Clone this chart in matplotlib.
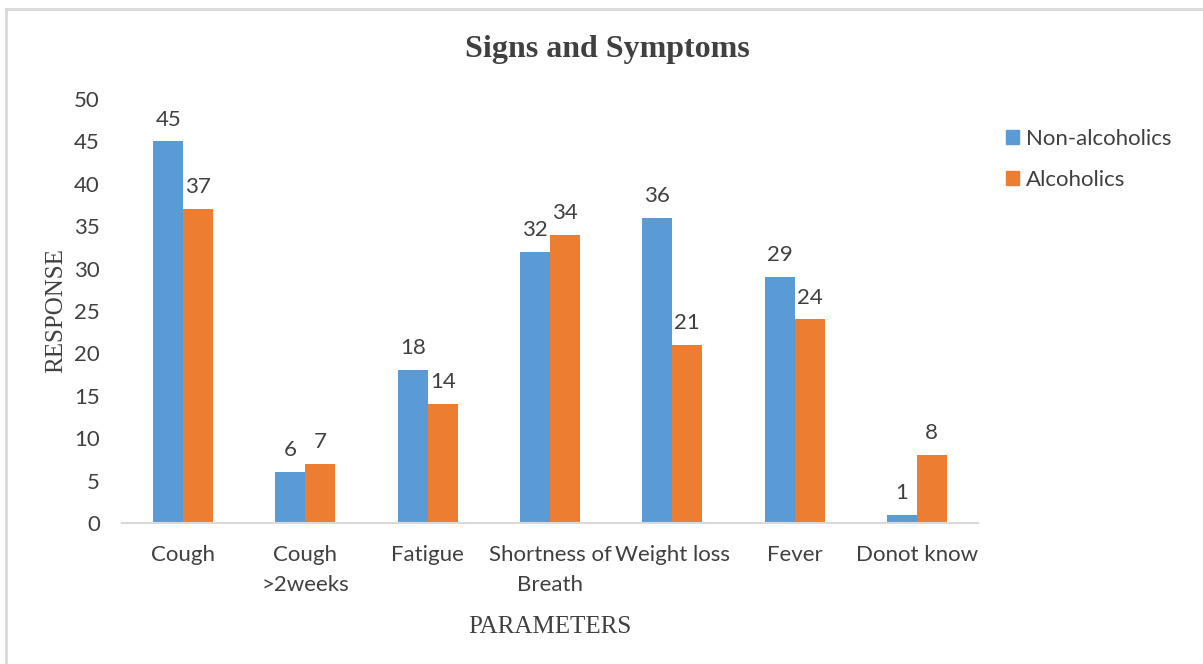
import matplotlib
matplotlib.use("Agg")
import matplotlib.pyplot as plt
import numpy as np
from matplotlib.lines import Line2D

categories = ["Cough", "Cough\n>2weeks", "Fatigue", "Shortness of\nBreath",
              "Weight loss", "Fever", "Donot know"]
non_alcoholics = [45, 6, 18, 32, 36, 29, 1]
alcoholics = [37, 7, 14, 34, 21, 24, 8]
series_names = ["Non-alcoholics", "Alcoholics"]
y_ticks = [0, 5, 10, 15, 20, 25, 30, 35, 40, 45, 50]

blue = "#5B9BD5"
orange = "#ED7D31"
text_col = "#404040"
sans = ["Lato", "DejaVu Sans"]
serif = ["Liberation Serif", "DejaVu Serif"]
fs = 16

fig = plt.figure(figsize=(12.03, 6.64), dpi=100)
ax = fig.add_axes([122 / 1203, 141 / 664, 856 / 1203, 424 / 664])

x = np.arange(len(categories))
w = 0.245
ax.bar(x - w / 2, non_alcoholics, w, color=blue, label=series_names[0])
ax.bar(x + w / 2, alcoholics, w, color=orange, label=series_names[1])

# value labels
for xi, v in zip(x, non_alcoholics):
    ax.text(xi - w / 2, v + 1.4, str(v), ha="center", va="bottom",
            fontsize=fs, color=text_col, family=sans)
for xi, v in zip(x, alcoholics):
    ax.text(xi + w / 2, v + 1.4, str(v), ha="center", va="bottom",
            fontsize=fs, color=text_col, family=sans)

ax.set_xlim(-0.5, len(categories) - 0.5)
ax.set_ylim(0, 50)
ax.set_yticks(y_ticks)
ax.set_xticks(x)
ax.set_xticklabels(categories, family=sans, fontsize=fs, color=text_col,
                   linespacing=1.6, va="top")
for lbl in ax.get_yticklabels():
    lbl.set_family(sans)
    lbl.set_fontsize(fs)
    lbl.set_color(text_col)
ax.tick_params(axis="both", length=0)
ax.tick_params(axis="x", pad=16)
ax.tick_params(axis="y", pad=16)

for s in ["top", "right", "left"]:
    ax.spines[s].set_visible(False)
ax.spines["bottom"].set_color("#D9D9D9")
ax.spines["bottom"].set_linewidth(1.5)

ax.set_ylabel("RESPONSE", family=serif, fontsize=18, color=text_col, labelpad=5)
ax.set_xlabel("PARAMETERS", family=serif, fontsize=18, color=text_col, labelpad=15)

fig.text(607 / 1203, 1 - 50 / 664, "Signs and Symptoms", ha="center", va="center",
         family=serif, fontsize=23, fontweight="bold", color=text_col)

handles = [plt.Rectangle((0, 0), 1, 1, color=blue),
           plt.Rectangle((0, 0), 1, 1, color=orange)]
leg = fig.legend(handles, series_names, loc="upper left",
                 bbox_to_anchor=(986 / 1203, 1 - 109 / 664), frameon=False,
                 prop={"family": sans, "size": fs}, handlelength=0.6,
                 handleheight=0.6, handletextpad=0.3, labelspacing=0.95)
for t in leg.get_texts():
    t.set_color(text_col)

# outer frame (top and left edges visible)
fig.add_artist(Line2D([6 / 1203, 1], [1 - 9 / 664, 1 - 9 / 664],
                      transform=fig.transFigure, color="#D9D9D9", lw=2))
fig.add_artist(Line2D([6 / 1203, 6 / 1203], [0, 1 - 9 / 664],
                      transform=fig.transFigure, color="#D9D9D9", lw=2))

fig.savefig("out.png", dpi=100)
